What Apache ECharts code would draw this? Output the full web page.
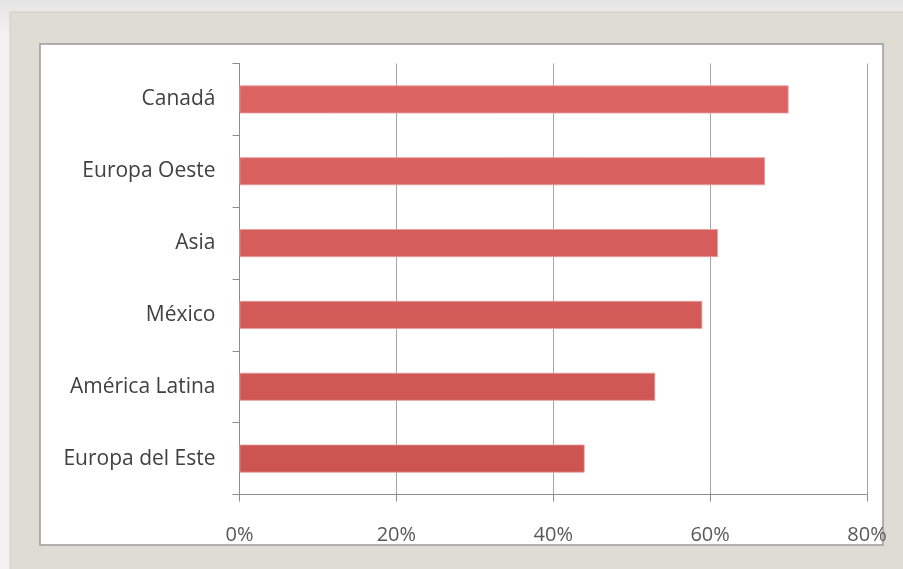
<!DOCTYPE html>
<html>
<head>
<meta charset="utf-8">
<script src="https://cdn.jsdelivr.net/npm/echarts@6/dist/echarts.min.js"></script>
<style>
html,body{margin:0;padding:0;background:#ffffff;}
#c{width:903px;height:569px;}
</style>
</head>
<body>
<div id="c"></div>
<script>
var categories = ['Canadá', 'Europa Oeste', 'Asia', 'México', 'América Latina', 'Europa del Este'];
var values = [70, 67, 61, 59, 53, 44];
var xTicks = [0, 20, 40, 60, 80];

var chart = echarts.init(document.getElementById('c'));
chart.setOption({
  animation: false,
  backgroundColor: '#ffffff',
  graphic: [
    { type: 'rect', z: -10, shape: { x: 0, y: 0, width: 903, height: 569 },
      style: { fill: new echarts.graphic.LinearGradient(0, 0, 0, 1, [
        { offset: 0, color: '#e4e4e4' }, { offset: 0.06, color: '#f2f2f2' }, { offset: 1, color: '#f2f2f2' }]) } },
    { type: 'rect', z: -9, shape: { x: 10, y: 12, width: 900, height: 570 },
      style: { fill: '#dfdcd4', stroke: '#cfccc4', lineWidth: 1 } },
    { type: 'rect', z: -8, shape: { x: 40, y: 44, width: 843, height: 501 },
      style: { fill: '#ffffff', stroke: '#9a9a9a', lineWidth: 1.5 } }
  ],
  grid: { left: 239.5, right: 36, top: 63.5, bottom: 74.5, containLabel: false },
  xAxis: {
    type: 'value', min: 0, max: 80, interval: 20,
    axisLine: { show: true, lineStyle: { color: '#8c8c8c', width: 1 } },
    axisTick: { show: true, length: 7, lineStyle: { color: '#8c8c8c' } },
    splitLine: { show: true, lineStyle: { color: '#a6a6a6', width: 1 } },
    axisLabel: { margin: 31, color: '#595959', fontSize: 20, fontFamily: 'Open Sans',
      formatter: function (v) { return xTicks.indexOf(v) >= 0 ? v + '%' : ''; } }
  },
  yAxis: {
    type: 'category', data: categories, inverse: true,
    axisLine: { show: true, lineStyle: { color: '#8c8c8c', width: 1 } },
    axisTick: { show: true, length: 7, lineStyle: { color: '#8c8c8c' } },
    axisLabel: { margin: 24, color: '#404040', fontSize: 21, fontFamily: 'Open Sans' }
  },
  series: [{
    type: 'bar', data: values, barWidth: 28,
    itemStyle: {
      color: new echarts.graphic.LinearGradient(0, 80, 0, 480, [
        { offset: 0, color: '#dc6563' }, { offset: 1, color: '#cb5350' }], true),
      borderColor: '#e6a09e', borderWidth: 0.8
    }
  }]
});
</script>
</body>
</html>
